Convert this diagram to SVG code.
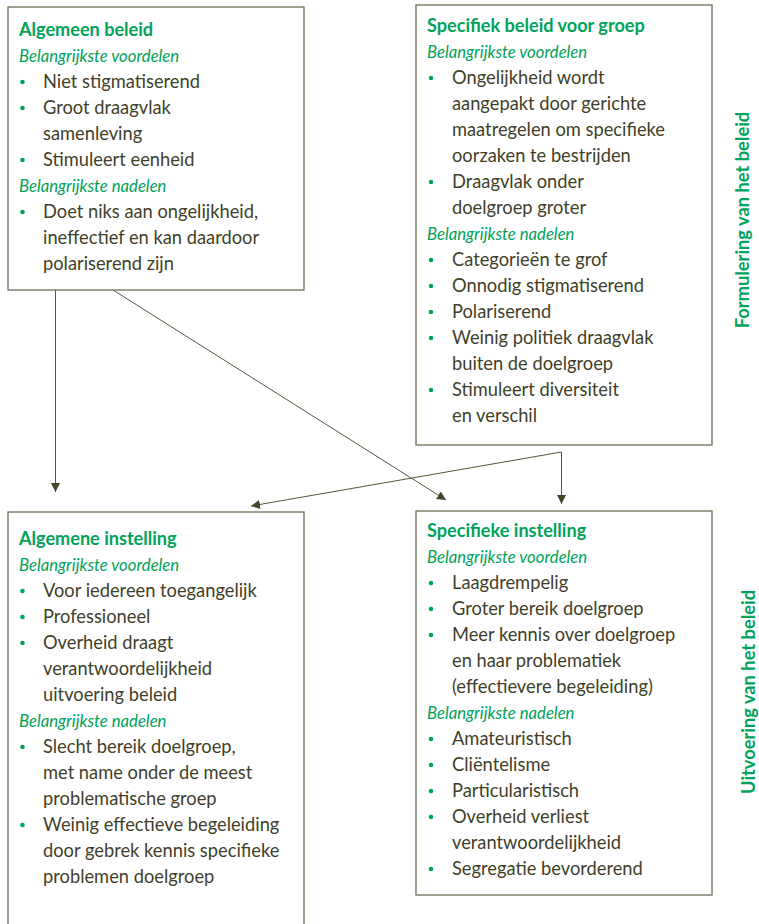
<svg xmlns="http://www.w3.org/2000/svg" width="759" height="924" viewBox="0 0 759 924">
<defs>
<style>
.box{fill:#fff;stroke:#6e6e58;stroke-width:1.3}
.t{font-family:Lato,"Open Sans",sans-serif;font-weight:bold;font-size:18.1px;fill:#00a35a}
.s{font-family:Lato,"Open Sans",sans-serif;font-style:italic;font-size:16.7px;fill:#00a35a}
.b{font-family:Lato,"Open Sans",sans-serif;font-size:18.3px;fill:#3f3f2a}
.d{fill:#00a35a}
.side{font-family:Lato,"Open Sans",sans-serif;font-weight:bold;font-size:18.3px;fill:#00a35a}
.c{stroke:#55553c;stroke-width:1;fill:none}
</style>
<marker id="ah" viewBox="0 0 10 10" refX="10" refY="5" markerWidth="9" markerHeight="9" markerUnits="userSpaceOnUse" orient="auto">
<path d="M0,0 L10,5 L0,10 z" fill="#45452a"/>
</marker>
</defs>
<rect width="759" height="924" fill="#fff"/>
<g id="connectors">
<line class="c" x1="55.5" y1="290" x2="55.5" y2="492" marker-end="url(#ah)"/>
<line class="c" x1="113" y1="290" x2="446" y2="500" marker-end="url(#ah)"/>
<line class="c" x1="561.5" y1="452" x2="561.5" y2="504" marker-end="url(#ah)"/>
<line class="c" x1="561.5" y1="452" x2="251" y2="506" marker-end="url(#ah)"/>
</g>
<g id="algemeen-beleid">
<rect class="box" x="8" y="7" width="296" height="283"/>
<text class="t" x="19" y="36">Algemeen beleid</text>
<text class="s" x="19" y="62">Belangrijkste voordelen</text>
<circle class="d" cx="22.5" cy="82" r="2.3"/>
<text class="b" x="43" y="88">Niet stigmatiserend</text>
<circle class="d" cx="22.5" cy="108" r="2.3"/>
<text class="b" x="43" y="114">Groot draagvlak</text>
<text class="b" x="43" y="140">samenleving</text>
<circle class="d" cx="22.5" cy="160" r="2.3"/>
<text class="b" x="43" y="166">Stimuleert eenheid</text>
<text class="s" x="19" y="192">Belangrijkste nadelen</text>
<circle class="d" cx="22.5" cy="212" r="2.3"/>
<text class="b" x="43" y="218">Doet niks aan ongelijkheid,</text>
<text class="b" x="43" y="244">ineffectief en kan daardoor</text>
<text class="b" x="43" y="270">polariserend zijn</text>
</g>
<g id="specifiek-beleid">
<rect class="box" x="416" y="5" width="296" height="440"/>
<text class="t" x="427" y="32">Specifiek beleid voor groep</text>
<text class="s" x="427" y="58">Belangrijkste voordelen</text>
<circle class="d" cx="431" cy="78" r="2.3"/>
<text class="b" x="452" y="84">Ongelijkheid wordt</text>
<text class="b" x="452" y="110">aangepakt door gerichte</text>
<text class="b" x="452" y="136">maatregelen om specifieke</text>
<text class="b" x="452" y="162">oorzaken te bestrijden</text>
<circle class="d" cx="431" cy="182" r="2.3"/>
<text class="b" x="452" y="188">Draagvlak onder</text>
<text class="b" x="452" y="214">doelgroep groter</text>
<text class="s" x="427" y="240">Belangrijkste nadelen</text>
<circle class="d" cx="431" cy="260" r="2.3"/>
<text class="b" x="452" y="266">Categorieën te grof</text>
<circle class="d" cx="431" cy="286" r="2.3"/>
<text class="b" x="452" y="292">Onnodig stigmatiserend</text>
<circle class="d" cx="431" cy="312" r="2.3"/>
<text class="b" x="452" y="318">Polariserend</text>
<circle class="d" cx="431" cy="338" r="2.3"/>
<text class="b" x="452" y="344">Weinig politiek draagvlak</text>
<text class="b" x="452" y="370">buiten de doelgroep</text>
<circle class="d" cx="431" cy="390" r="2.3"/>
<text class="b" x="452" y="396">Stimuleert diversiteit</text>
<text class="b" x="452" y="422">en verschil</text>
</g>
<g id="algemene-instelling">
<rect class="box" x="8" y="512" width="296" height="420"/>
<text class="t" x="19" y="545">Algemene instelling</text>
<text class="s" x="19" y="571">Belangrijkste voordelen</text>
<circle class="d" cx="22.5" cy="591" r="2.3"/>
<text class="b" x="43" y="597">Voor iedereen toegangelijk</text>
<circle class="d" cx="22.5" cy="617" r="2.3"/>
<text class="b" x="43" y="623">Professioneel</text>
<circle class="d" cx="22.5" cy="643" r="2.3"/>
<text class="b" x="43" y="649">Overheid draagt</text>
<text class="b" x="43" y="675">verantwoordelijkheid</text>
<text class="b" x="43" y="701">uitvoering beleid</text>
<text class="s" x="19" y="727">Belangrijkste nadelen</text>
<circle class="d" cx="22.5" cy="747" r="2.3"/>
<text class="b" x="43" y="753">Slecht bereik doelgroep,</text>
<text class="b" x="43" y="779">met name onder de meest</text>
<text class="b" x="43" y="805">problematische groep</text>
<circle class="d" cx="22.5" cy="825" r="2.3"/>
<text class="b" x="43" y="831">Weinig effectieve begeleiding</text>
<text class="b" x="43" y="857">door gebrek kennis specifieke</text>
<text class="b" x="43" y="883">problemen doelgroep</text>
</g>
<g id="specifieke-instelling">
<rect class="box" x="416" y="511" width="296" height="384"/>
<text class="t" x="427" y="537">Specifieke instelling</text>
<text class="s" x="427" y="563">Belangrijkste voordelen</text>
<circle class="d" cx="431" cy="583" r="2.3"/>
<text class="b" x="452" y="589">Laagdrempelig</text>
<circle class="d" cx="431" cy="609" r="2.3"/>
<text class="b" x="452" y="615">Groter bereik doelgroep</text>
<circle class="d" cx="431" cy="635" r="2.3"/>
<text class="b" x="452" y="641">Meer kennis over doelgroep</text>
<text class="b" x="452" y="667">en haar problematiek</text>
<text class="b" x="452" y="693">(effectievere begeleiding)</text>
<text class="s" x="427" y="719">Belangrijkste nadelen</text>
<circle class="d" cx="431" cy="739" r="2.3"/>
<text class="b" x="452" y="745">Amateuristisch</text>
<circle class="d" cx="431" cy="765" r="2.3"/>
<text class="b" x="452" y="771">Cliëntelisme</text>
<circle class="d" cx="431" cy="791" r="2.3"/>
<text class="b" x="452" y="797">Particularistisch</text>
<circle class="d" cx="431" cy="817" r="2.3"/>
<text class="b" x="452" y="823">Overheid verliest</text>
<text class="b" x="452" y="849">verantwoordelijkheid</text>
<circle class="d" cx="431" cy="869" r="2.3"/>
<text class="b" x="452" y="875">Segregatie bevorderend</text>
</g>
<g id="side-labels">
<text class="side" transform="translate(749,220) rotate(-90)" text-anchor="middle">Formulering van het beleid</text>
<text class="side" transform="translate(755,692) rotate(-90)" text-anchor="middle">Uitvoering van het beleid</text>
</g>
</svg>
